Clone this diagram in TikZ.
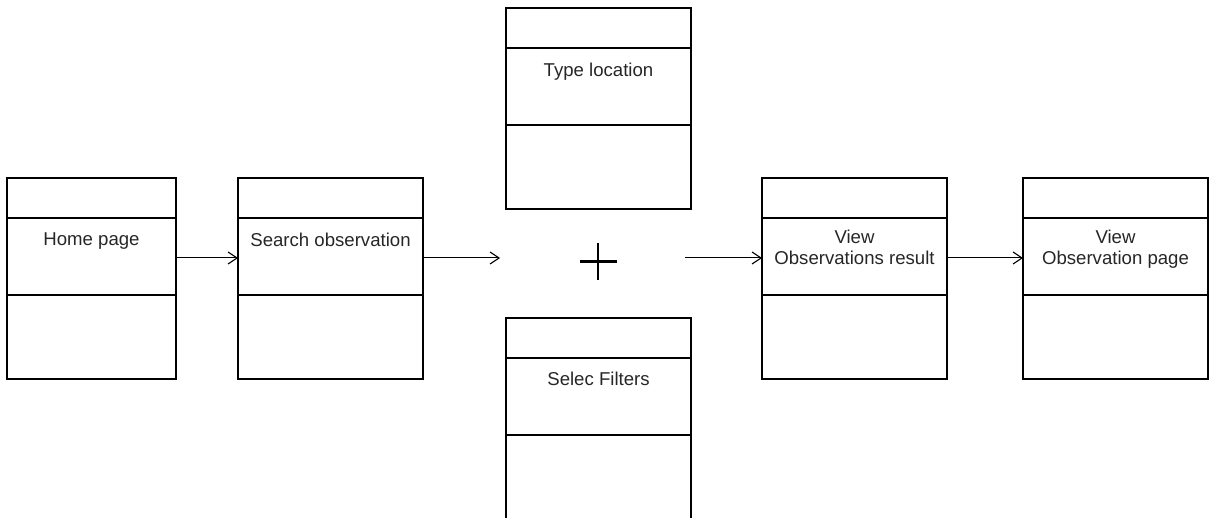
\documentclass[tikz,border=0pt]{standalone}
\usepackage{fontspec}
\setmainfont{Liberation Sans}
\usetikzlibrary{arrows.meta}
\begin{document}
\begin{tikzpicture}[x=1pt,y=-1pt,
  pagebox/.style={draw, line width=1.2pt, inner sep=0pt, outer sep=0pt,
    minimum width=185pt, minimum height=201pt, anchor=north west},
  divider/.style={line width=1.2pt},
  caption/.style={anchor=north, inner sep=0pt, outer sep=0pt, align=center,
    font=\fontsize{18.6}{21.5}\selectfont, text=black!85},
  flow/.style={line width=1pt, -{Straight Barb[length=9pt,width=12pt,line width=1.1pt]}}
]
\useasboundingbox (0,0) rectangle (1209,518);

% three-compartment page boxes
\node[pagebox, minimum width=169pt] (home)   at (7,178)    {};
\node[pagebox] (search) at (238,178)  {};
\node[pagebox] (type)   at (506,8)    {};
\node[pagebox, minimum height=203pt] (filters) at (506,318) {};
\node[pagebox] (result) at (762,178)  {};
\node[pagebox] (obs)    at (1023,178) {};

\foreach \b in {home,search,type,filters,result,obs}{
  \draw[divider] ([yshift=-40pt]\b.north west) -- ([yshift=-40pt]\b.north east);
  \draw[divider] ([yshift=-117pt]\b.north west) -- ([yshift=-117pt]\b.north east);
}

% captions
\node[caption] (thome)    at ([yshift=-55pt]home.north)    {Home page};
\node[caption] (tsearch)  at ([yshift=-55pt]search.north)  {Search observation};
\node[caption] (ttype)    at ([yshift=-55pt]type.north)    {Type location};
\node[caption] (tfilters) at ([yshift=-54pt]filters.north) {Selec Filters};
\node[caption] (tresult)  at ([yshift=-52pt]result.north)  {View\\Observations result};
\node[caption] (tobs)     at ([yshift=-52pt]obs.north)     {View\\Observation page};

% the combining plus sign
\coordinate (plus) at (598,261.5);
\draw[line width=2.6pt] ([xshift=-18.5pt]plus) -- ([xshift=18.5pt]plus);
\draw[line width=2.6pt] ([yshift=18.5pt]plus) -- ([yshift=-18.5pt]plus);

% flow arrows
\coordinate (lvl) at (0,258);
\coordinate (intoplus) at (500,258);
\coordinate (outofplus) at (685,258);
\draw[flow] (home.east |- lvl) -- (search.west |- lvl);
\draw[flow] (search.east |- lvl) -- (intoplus);
\draw[flow] (outofplus) -- (result.west |- lvl);
\draw[flow] (result.east |- lvl) -- (obs.west |- lvl);
\end{tikzpicture}
\end{document}
